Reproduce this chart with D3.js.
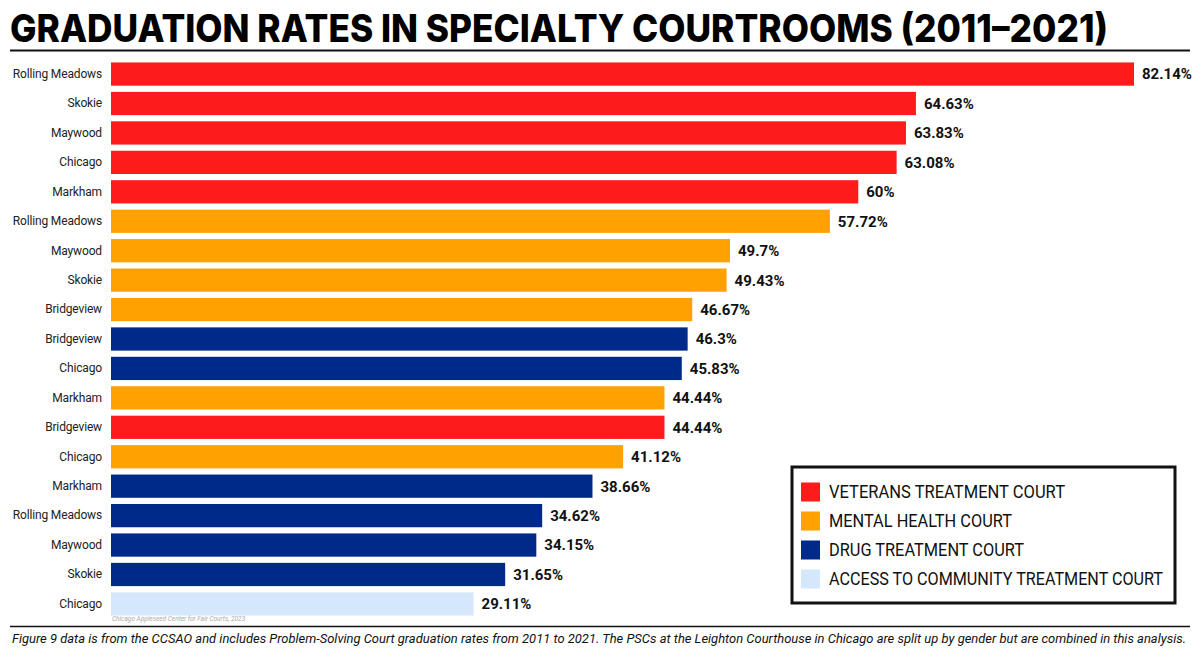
<!DOCTYPE html>
<html><head><meta charset="utf-8">
<script src="https://cdn.jsdelivr.net/npm/d3@7"></script>
<style>body{margin:0;background:#fff}svg{display:block}</style>
</head><body>
<svg id="c" width="1200" height="652"></svg>
<script>
const courthouses = ["Rolling Meadows","Skokie","Maywood","Chicago","Markham","Rolling Meadows","Maywood","Skokie","Bridgeview","Bridgeview","Chicago","Markham","Bridgeview","Chicago","Markham","Rolling Meadows","Maywood","Skokie","Chicago"];
const rates = [82.14,64.63,63.83,63.08,60,57.72,49.7,49.43,46.67,46.3,45.83,44.44,44.44,41.12,38.66,34.62,34.15,31.65,29.11];
const rateLabels = ["82.14%","64.63%","63.83%","63.08%","60%","57.72%","49.7%","49.43%","46.67%","46.3%","45.83%","44.44%","44.44%","41.12%","38.66%","34.62%","34.15%","31.65%","29.11%"];
const courtTypes = ["V","V","V","V","V","M","M","M","M","D","D","M","V","M","D","D","D","D","A"];
const typeKeys = ["V","M","D","A"];
const typeNames = ["VETERANS TREATMENT COURT","MENTAL HEALTH COURT","DRUG TREATMENT COURT","ACCESS TO COMMUNITY TREATMENT COURT"];
const typeColors = ["#fe1b1c","#ffa100","#002a8a","#d5e7fb"];

const svg = d3.select("#c");
const color = d3.scaleOrdinal().domain(typeKeys).range(typeColors);
const x = d3.scaleLinear().domain([0, 82.14]).range([111, 1134]);
const idx = d3.range(rates.length);
const y = d3.scaleBand().domain(idx).range([59.5, 618.5]).paddingInner(0.21).paddingOuter(0.1);

// title
svg.append("text").attr("x",10).attr("y",42)
  .attr("font-family","Inter, 'DejaVu Sans', sans-serif").attr("font-weight",800)
  .attr("font-size",38).attr("textLength",1098).attr("lengthAdjust","spacingAndGlyphs")
  .text("GRADUATION RATES IN SPECIALTY COURTROOMS (2011–2021)");
svg.append("line").attr("x1",10).attr("x2",1190).attr("y1",50.5).attr("y2",50.5).attr("stroke","#111").attr("stroke-width",2);

// bars
svg.append("g").selectAll("rect").data(idx).join("rect")
  .attr("x", x(0)).attr("y", i=>y(i)).attr("width", i=>x(rates[i])-x(0)).attr("height", y.bandwidth())
  .attr("fill", i=>color(courtTypes[i]));

// category labels
const yAxis = d3.axisLeft(y).tickSize(0).tickPadding(9).tickFormat(i=>courthouses[i]);
const ga = svg.append("g").attr("transform",`translate(${x(0)},0)`).call(yAxis);
ga.select(".domain").remove();
ga.selectAll("text").attr("font-family","Roboto, sans-serif").attr("font-size",12)
  .attr("letter-spacing","-0.15").attr("fill","#222");

// value labels
svg.append("g").selectAll("text").data(idx).join("text")
  .attr("x", i=>x(rates[i])+8).attr("y", i=>y(i)+y.bandwidth()/2).attr("dy","0.36em")
  .attr("font-family","Roboto, sans-serif").attr("font-weight",700).attr("font-size",15).attr("fill","#111")
  .text(i=>rateLabels[i]);

// source
svg.append("text").attr("x",112).attr("y",621).attr("font-family","Roboto, sans-serif").attr("font-style","italic")
  .attr("font-size",6.5).attr("fill","#aaa").text("Chicago Appleseed Center for Fair Courts, 2023");

// legend
const lg = svg.append("g");
lg.append("rect").attr("x",792).attr("y",467).attr("width",383).attr("height",136).attr("fill","#fff").attr("stroke","#111").attr("stroke-width",3);
const ly = d3.scalePoint().domain(typeKeys).range([492,579]);
lg.selectAll("rect.sw").data(typeKeys).join("rect").attr("class","sw")
  .attr("x",801).attr("y",k=>ly(k)-9.5).attr("width",19).attr("height",19).attr("fill",k=>color(k));
lg.selectAll("text").data(typeKeys).join("text")
  .attr("x",829).attr("y",k=>ly(k)).attr("dy","0.36em")
  .attr("font-family","Roboto, sans-serif").attr("font-size",17.5).attr("fill","#111")
  .attr("textLength",(k,i)=>[236,183,195,334][i]).attr("lengthAdjust","spacingAndGlyphs")
  .text((k,i)=>typeNames[i]);

// footnote
svg.append("line").attr("x1",10).attr("x2",1190).attr("y1",626.5).attr("y2",626.5).attr("stroke","#111").attr("stroke-width",1.5);
svg.append("text").attr("x",12).attr("y",642.5).attr("font-family","Roboto, sans-serif").attr("font-style","italic")
  .attr("font-size",13).attr("fill","#111").attr("textLength",1174).attr("lengthAdjust","spacingAndGlyphs")
  .text("Figure 9 data is from the CCSAO and includes Problem-Solving Court graduation rates from 2011 to 2021. The PSCs at the Leighton Courthouse in Chicago are split up by gender but are combined in this analysis.");
</script>
</body></html>
